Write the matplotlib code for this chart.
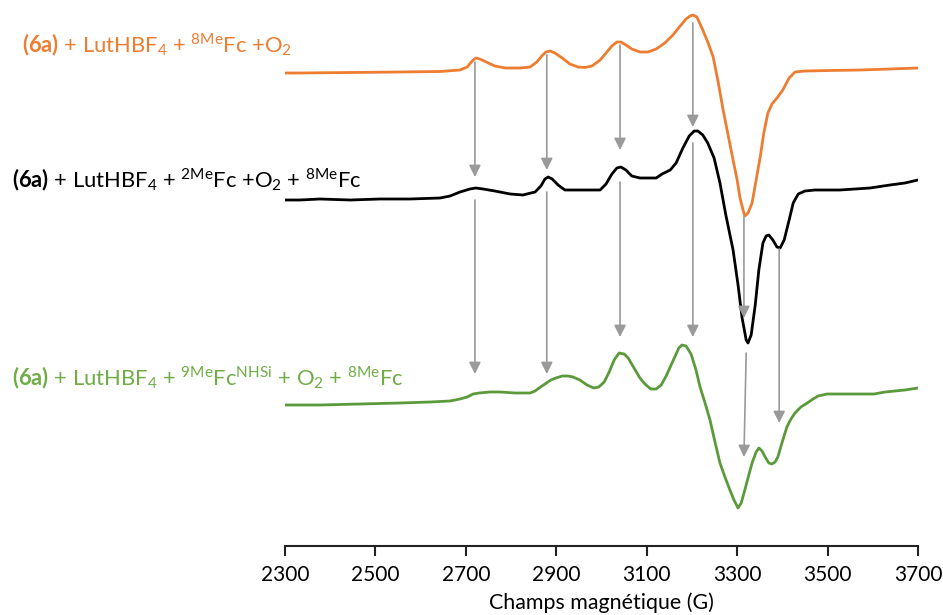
import matplotlib
matplotlib.use("Agg")
import matplotlib.pyplot as plt

plt.rcParams['font.family'] = ['Lato', 'DejaVu Sans']
plt.rcParams['mathtext.fontset'] = 'custom'
plt.rcParams['mathtext.rm'] = 'Lato'
plt.rcParams['mathtext.bf'] = 'Lato:bold'
plt.rcParams['mathtext.it'] = 'Lato:italic'

# ---------------- data ----------------
field_orange = [2300, 2333, 2444, 2554, 2643, 2687, 2703, 2714, 2722, 2731,
                2745, 2764, 2787, 2820, 2842, 2857, 2868, 2877, 2886, 2897,
                2913, 2930, 2948, 2964, 2979, 2997, 3010, 3023, 3034, 3043,
                3054, 3067, 3085, 3103, 3121, 3140, 3158, 3174, 3187, 3196,
                3202, 3211, 3224, 3235, 3247, 3258, 3269, 3280, 3291, 3300,
                3306, 3313, 3317, 3324, 3333, 3342, 3351, 3359, 3368, 3377,
                3388, 3401, 3415, 3428, 3450, 3505, 3572, 3638, 3700]
signal_orange = [-1, -1, -0.5, 0, 0.5, 2, 5, 11, 14, 13,
                 10, 6, 4, 4, 5, 10, 16, 20, 21, 19,
                 14, 8, 5, 4.5, 6, 12, 19, 26, 30, 30,
                 27, 23, 20, 20, 23, 29, 37, 46, 53, 56,
                 57, 55, 42, 30, 15, -10, -38, -63, -88, -108,
                 -125, -138, -144, -141, -131, -108, -85, -61, -41, -32,
                 -26, -18, -6, 0, 1, 1.5, 2, 3, 4]

field_black = [2300, 2333, 2377, 2444, 2510, 2576, 2643, 2665, 2687, 2709,
               2722, 2738, 2764, 2798, 2826, 2853, 2866, 2875, 2882, 2891,
               2904, 2919, 2952, 2997, 3010, 3023, 3034, 3043, 3054, 3067,
               3085, 3107, 3121, 3134, 3152, 3165, 3180, 3194, 3205, 3213,
               3224, 3235, 3249, 3262, 3275, 3291, 3302, 3311, 3320, 3324,
               3331, 3340, 3348, 3357, 3364, 3370, 3379, 3388, 3395, 3404,
               3415, 3424, 3435, 3450, 3472, 3527, 3594, 3638, 3671, 3700]
signal_black = [-2, -2, -1, -2, -1, -1, 0, 2, 6, 9,
                10, 9, 7, 4, 3, 6, 12, 19, 21, 19,
                13, 8, 8, 8, 14, 24, 30, 31, 28, 22,
                20, 20, 20, 24, 28, 35, 50, 62, 67, 67,
                63, 55, 40, 15, -17, -52, -87, -120, -142, -145,
                -137, -107, -72, -45, -38, -37, -42, -49, -50, -42,
                -22, -5, 4, 7, 8, 8, 10, 13, 15, 18]

field_green = [2300, 2377, 2466, 2554, 2621, 2665, 2687, 2703, 2716, 2729,
               2753, 2776, 2809, 2842, 2853, 2862, 2875, 2888, 2899, 2913,
               2926, 2937, 2952, 2968, 2983, 2994, 3006, 3017, 3028, 3039,
               3050, 3059, 3072, 3085, 3096, 3109, 3121, 3132, 3143, 3152,
               3163, 3171, 3178, 3187, 3198, 3209, 3218, 3229, 3240, 3251,
               3262, 3273, 3284, 3293, 3302, 3309, 3317, 3324, 3333, 3342,
               3348, 3355, 3362, 3370, 3377, 3384, 3390, 3399, 3410, 3419,
               3428, 3441, 3455, 3468, 3479, 3499, 3550, 3603, 3627, 3649,
               3671, 3700]
signal_green = [-3, -3, -2, -1, 0, 1, 3, 5, 8, 9,
                10, 10, 9, 9, 11, 14, 18, 22, 24, 26,
                26, 25, 22, 17, 14, 15, 20, 30, 42, 49,
                48, 44, 34, 24, 18, 13, 13, 17, 26, 35,
                46, 54, 57, 56, 48, 32, 15, -1, -18, -40,
                -61, -75, -88, -98, -106, -101, -88, -76, -61, -50,
                -46, -49, -55, -61, -62, -60, -55, -41, -25, -17,
                -11, -5, -1, 3, 6, 8, 8, 8, 10, 11,
                12, 14]

offsets = [474, 348, 144]   # vertical stacking of the three spectra

# arrows linking corresponding features (field start, field end, y start, y end)
arrow_x0 = [2720, 2879, 3041, 3202, 2720, 2879, 3041, 3202, 3315, 3320, 3393]
arrow_x1 = [2720, 2879, 3041, 3202, 2720, 2879, 3041, 3202, 3315, 3315, 3393]
arrow_y0 = [484, 491, 501, 523, 346, 354, 364, 403, 329, 193, 297]
arrow_y1 = [369, 376, 396, 419, 172, 172, 209, 209, 228, 89, 123]

xticks = [2300, 2500, 2700, 2900, 3100, 3300, 3500, 3700]
xlabel = "Champs magnétique (G)"
labels = [
    r'$\mathbf{(6a)}$ + LutHBF$_4$ + $^{\mathrm{8Me}}$Fc +O$_2$',
    r'$\mathbf{(6a)}$ + LutHBF$_4$ + $^{\mathrm{2Me}}$Fc +O$_2$ + $^{\mathrm{8Me}}$Fc',
    r'$\mathbf{(6a)}$ + LutHBF$_4$ + $^{\mathrm{9Me}}$Fc$^{\mathrm{NHSi}}$ + O$_2$ + $^{\mathrm{8Me}}$Fc',
]
colors = ['#ED7D31', '#000000', '#5B9A3A']
label_colors = ['#ED7D31', '#000000', '#70AD47']

# ---------------- figure ----------------
W, H = 943, 615
fig = plt.figure(figsize=(W / 100, H / 100), dpi=100)
ax = fig.add_axes([285 / W, 69 / H, 633 / W, 546 / H])

series = [(field_orange, signal_orange), (field_black, signal_black), (field_green, signal_green)]
for (fx, sy), off, c in zip(series, offsets, colors):
    ax.plot(fx, [v + off for v in sy], color=c, lw=2.0, solid_joinstyle='round')

for x0, x1, y0, y1 in zip(arrow_x0, arrow_x1, arrow_y0, arrow_y1):
    ax.annotate('', xy=(x1, y1), xytext=(x0, y0),
                arrowprops=dict(arrowstyle='-|>,head_length=0.5,head_width=0.25',
                                color='#9a9a9a', lw=1.2, mutation_scale=14,
                                shrinkA=0, shrinkB=0))

ax.set_xlim(2300, 3700)
ax.set_ylim(0, 546)
ax.set_xticks(xticks)
ax.set_xticklabels([str(t) for t in xticks], fontsize=15)
ax.set_yticks([])
for s in ['top', 'right', 'left']:
    ax.spines[s].set_visible(False)
ax.spines['bottom'].set_linewidth(1.5)
ax.spines['bottom'].set_color('#222222')
ax.tick_params(axis='x', direction='out', length=7, width=1.5, color='#222222', pad=7)
ax.set_xlabel(xlabel, fontsize=15.4, labelpad=5)
ax.patch.set_visible(False)

label_pos = [(22, 45), (12, 180), (12, 378)]
for lab, (px, py), c in zip(labels, label_pos, label_colors):
    fig.text(px / W, 1 - py / H, lab, color=c, fontsize=15.8, ha='left', va='center')

fig.savefig('out.png', dpi=100)
